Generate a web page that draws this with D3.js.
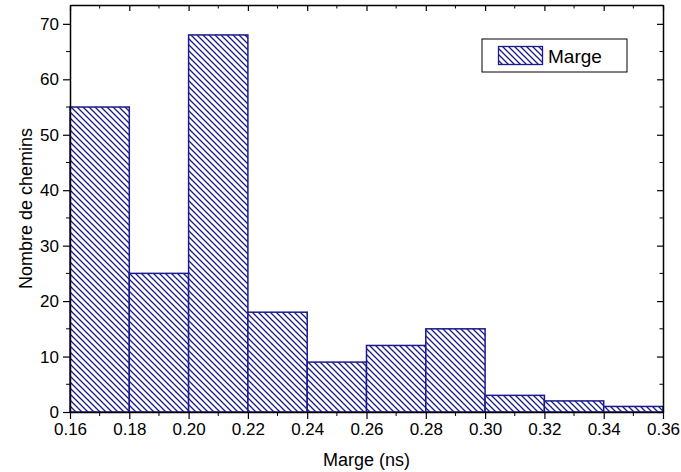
<!DOCTYPE html>
<html><head><meta charset="utf-8">
<script src="https://cdn.jsdelivr.net/npm/d3@7/dist/d3.min.js"></script>
<style>body{margin:0;background:#fff;} svg{display:block;} text{font-family:"Liberation Sans",Arial,sans-serif;}</style>
</head><body>
<svg id="c" width="681" height="472"></svg>
<script>
const binStarts = [0.16,0.18,0.20,0.22,0.24,0.26,0.28,0.30,0.32,0.34];
const binWidth = 0.02;
const counts = [55,25,68,18,9,12,15,3,2,1];
const xTicks = [0.16,0.18,0.20,0.22,0.24,0.26,0.28,0.30,0.32,0.34,0.36];
const yTicks = [0,10,20,30,40,50,60,70];
const seriesName = "Marge";
const xTitle = "Marge (ns)";
const yTitle = "Nombre de chemins";

const col = "#1a1a8c";
const svg = d3.select("#c");
const L=70,R=663,T=5,B=412;
const x = d3.scaleLinear().domain([0.16,0.36]).range([L,R]);
const y = d3.scaleLinear().domain([0,73.4]).range([B,T]);

const defs = svg.append("defs");
const pat = defs.append("pattern").attr("id","hatch").attr("patternUnits","userSpaceOnUse")
  .attr("width",6).attr("height",6);
pat.append("rect").attr("width",6).attr("height",6).attr("fill","#fff");
pat.append("path").attr("d","M-1,-1 L7,7 M-4,2 L2,8 M4,-2 L8,2")
  .attr("stroke",col).attr("stroke-width",1.3);

svg.append("g").selectAll("rect").data(counts).join("rect")
  .attr("x",(d,i)=>x(binStarts[i]))
  .attr("y",d=>y(d))
  .attr("width",(d,i)=>x(binStarts[i]+binWidth)-x(binStarts[i]))
  .attr("height",d=>y(0)-y(d))
  .attr("fill","url(#hatch)").attr("stroke",col).attr("stroke-width",1.5);

const fmt = d3.format(".2f");
const minorX = d3.range(0.17,0.36,0.02);
const minorY = d3.range(5,75,10);

// bottom axis
const gb = svg.append("g").attr("transform",`translate(0,${B})`)
  .call(d3.axisBottom(x).tickValues(xTicks).tickFormat(fmt).tickSize(7).tickPadding(4).tickSizeOuter(0));
gb.append("g").selectAll("line").data(minorX).join("line")
  .attr("x1",d=>x(d)).attr("x2",d=>x(d)).attr("y1",0).attr("y2",4).attr("stroke","#000");
// top axis
const gt = svg.append("g").attr("transform",`translate(0,${T})`)
  .call(d3.axisTop(x).tickValues(xTicks).tickFormat("").tickSize(-6).tickSizeOuter(0));
gt.append("g").selectAll("line").data(minorX).join("line")
  .attr("x1",d=>x(d)).attr("x2",d=>x(d)).attr("y1",0).attr("y2",3.5).attr("stroke","#000");
// left axis
const gl = svg.append("g").attr("transform",`translate(${L},0)`)
  .call(d3.axisLeft(y).tickValues(yTicks).tickSize(7).tickPadding(4).tickSizeOuter(0));
gl.append("g").selectAll("line").data(minorY).join("line")
  .attr("y1",d=>y(d)).attr("y2",d=>y(d)).attr("x1",0).attr("x2",-4).attr("stroke","#000");
// right axis
const gr = svg.append("g").attr("transform",`translate(${R},0)`)
  .call(d3.axisRight(y).tickValues(yTicks).tickFormat("").tickSize(-6).tickSizeOuter(0));
gr.append("g").selectAll("line").data(minorY).join("line")
  .attr("y1",d=>y(d)).attr("y2",d=>y(d)).attr("x1",0).attr("x2",-3.5).attr("stroke","#000");

svg.selectAll(".domain").attr("stroke","#000").attr("stroke-width",1.5);
svg.selectAll(".tick line").attr("stroke","#000").attr("stroke-width",1.2);
svg.selectAll("g").attr("font-size",null).attr("font-family",null);
svg.selectAll(".tick text").style("font-size","17px").attr("fill","#000");

svg.append("text").attr("x",(L+R)/2).attr("y",466).attr("text-anchor","middle")
  .style("font-size","18px").text(xTitle);
svg.append("text").attr("transform",`translate(32,${(T+B)/2}) rotate(-90)`).attr("text-anchor","middle")
  .style("font-size","18px").text(yTitle);

// legend
const lg = svg.append("g");
lg.append("rect").attr("x",482).attr("y",39).attr("width",145).attr("height",33)
  .attr("fill","#fff").attr("stroke","#000").attr("stroke-width",1);
lg.append("rect").attr("x",498.5).attr("y",46.5).attr("width",44).attr("height",18)
  .attr("fill","url(#hatch)").attr("stroke",col).attr("stroke-width",1.3);
lg.append("text").attr("x",548).attr("y",62.5).style("font-size","19px").text(seriesName);
</script>
</body></html>
